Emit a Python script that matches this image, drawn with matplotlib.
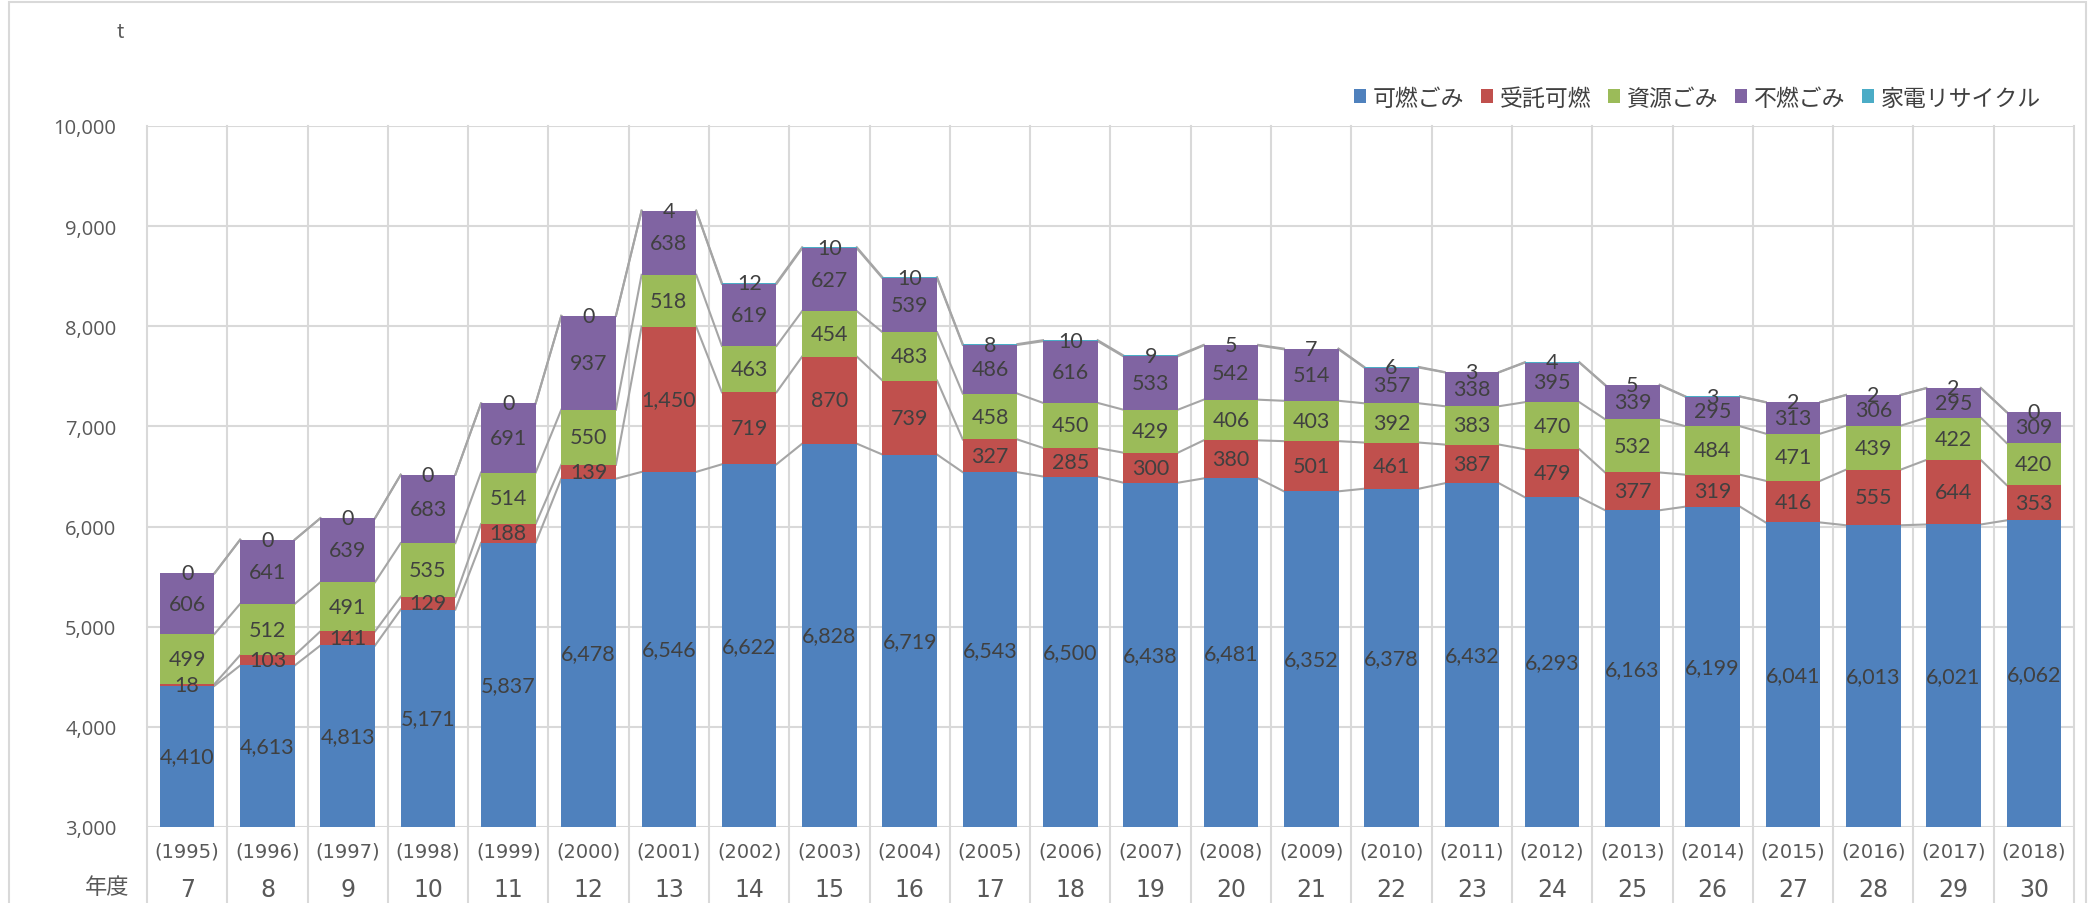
import matplotlib
matplotlib.use("Agg")
import matplotlib.pyplot as plt
from matplotlib.patches import Rectangle
from matplotlib.transforms import blended_transform_factory
import numpy as np

plt.rcParams['font.family'] = ['Noto Sans CJK JP', 'DejaVu Sans']

years_wareki = ['7', '8', '9', '10', '11', '12', '13', '14', '15', '16', '17', '18',
                '19', '20', '21', '22', '23', '24', '25', '26', '27', '28', '29', '30']
years_ad = ['(1995)', '(1996)', '(1997)', '(1998)', '(1999)', '(2000)', '(2001)', '(2002)',
            '(2003)', '(2004)', '(2005)', '(2006)', '(2007)', '(2008)', '(2009)', '(2010)',
            '(2011)', '(2012)', '(2013)', '(2014)', '(2015)', '(2016)', '(2017)', '(2018)']

kanen = [4410, 4613, 4813, 5171, 5837, 6478, 6546, 6622, 6828, 6719, 6543, 6500,
         6438, 6481, 6352, 6378, 6432, 6293, 6163, 6199, 6041, 6013, 6021, 6062]
jutaku = [18, 103, 141, 129, 188, 139, 1450, 719, 870, 739, 327, 285,
          300, 380, 501, 461, 387, 479, 377, 319, 416, 555, 644, 353]
shigen = [499, 512, 491, 535, 514, 550, 518, 463, 454, 483, 458, 450,
          429, 406, 403, 392, 383, 470, 532, 484, 471, 439, 422, 420]
funen = [606, 641, 639, 683, 691, 937, 638, 619, 627, 539, 486, 616,
         533, 542, 514, 357, 338, 395, 339, 295, 313, 306, 295, 309]
kaden = [0, 0, 0, 0, 0, 0, 4, 12, 10, 10, 8, 10,
         9, 5, 7, 6, 3, 4, 5, 3, 2, 2, 2, 0]

series_names = ['可燃ごみ', '受託可燃', '資源ごみ', '不燃ごみ', '家電リサイクル']
series_vals = [kanen, jutaku, shigen, funen, kaden]
colors = ['#4F81BD', '#C0504D', '#9BBB59', '#8064A2', '#4BACC6']

YMIN, YMAX = 3000, 10000

W, H = 2095, 904
fig = plt.figure(figsize=(W / 100, H / 100), dpi=100)
ax = fig.add_axes([147 / W, 1 - 828 / H, (2074 - 147) / W, (828 - 127) / H])

n = len(kanen)
x = np.arange(n)
bw = 0.68
bottom = np.zeros(n)
levels = []
handles = []
for name, vals, c in zip(series_names, series_vals, colors):
    v = np.array(vals, dtype=float)
    b = ax.bar(x, v, bw, bottom=bottom, color=c, label=name, zorder=3)
    handles.append(b)
    for i in range(n):
        lo = max(bottom[i], YMIN)
        hi = bottom[i] + v[i]
        ax.text(x[i], (lo + hi) / 2, f"{int(v[i]):,}", ha='center', va='center',
                fontsize=15.5, color='#404040', family=['Lato', 'DejaVu Sans'], zorder=5)
    bottom = bottom + v
    levels.append(bottom.copy())

# series lines
for lev in levels:
    for i in range(n - 1):
        ax.plot([x[i] + bw / 2, x[i + 1] - bw / 2], [lev[i], lev[i + 1]],
                color='#A5A5A5', lw=1.5, zorder=2)

ax.set_ylim(YMIN, YMAX)
ax.set_xlim(-0.5, n - 0.5)
ax.set_yticks(np.arange(YMIN, YMAX + 1, 1000))
ax.set_yticklabels([f"{v:,}" for v in range(YMIN, YMAX + 1, 1000)],
                   family=['Open Sans', 'DejaVu Sans'], fontsize=14.5, color='#595959')
ax.tick_params(axis='y', length=0, pad=22)
ax.set_xticks([])
ax.grid(axis='y', color='#D9D9D9', lw=1.5, zorder=0)
for s in ax.spines.values():
    s.set_visible(False)

# vertical category lines extending down into label area
trans = blended_transform_factory(ax.transData, fig.transFigure)
y_top = 1 - 127 / H
for k in range(n + 1):
    ax.plot([k - 0.5, k - 0.5], [0, y_top], transform=trans, color='#D9D9D9',
            lw=1.5, clip_on=False, zorder=0)
ax.plot([-0.5, n - 0.5], [YMIN, YMIN], color='#D9D9D9', lw=2, zorder=1)

for i in range(n):
    ax.text(x[i], 1 - 852 / H, years_ad[i], transform=trans, ha='center', va='center',
            fontsize=14, color='#595959', family=['Liberation Sans Narrow', 'DejaVu Sans'])
    ax.text(x[i], 1 - 890 / H, years_wareki[i], transform=trans, ha='center', va='center',
            fontsize=17, color='#595959', family=['Liberation Sans Narrow', 'DejaVu Sans'])

fig.text(107 / W, 1 - 888 / H, '年度', ha='center', va='center', fontsize=16, color='#595959')
fig.text(120 / W, 1 - 33 / H, 't', ha='center', va='center', fontsize=14, color='#595959')

leg = fig.legend(handles=handles, labels=series_names, loc='center right',
                 bbox_to_anchor=(2062 / W, 1 - 99 / H), ncol=5, frameon=False,
                 fontsize=16.5, handlelength=0.55, handleheight=0.55, handletextpad=0.3,
                 columnspacing=0.7, labelcolor='#404040')

fig.patches.append(Rectangle((9 / W, -0.05), 1 - 18 / W, 1.05 - 3 / H, transform=fig.transFigure,
                             fill=False, edgecolor='#D9D9D9', lw=1.5))

fig.savefig('out.png', dpi=100)
